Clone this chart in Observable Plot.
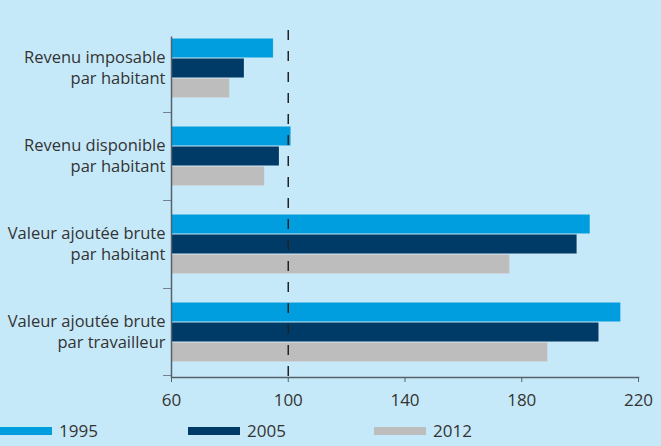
<!DOCTYPE html>
<html>
<head>
<meta charset="utf-8">
<script src="https://cdn.jsdelivr.net/npm/d3@7"></script>
<script src="https://cdn.jsdelivr.net/npm/@observablehq/plot@0.6"></script>
<style>
  html, body { margin: 0; padding: 0; background: #c6e9f9; }
  #wrap { width: 661px; height: 446px; position: relative; background: #c6e9f9; font-family: "Open Sans", sans-serif; overflow: hidden; }
  #legend { position: absolute; left: 0; top: 415px; width: 661px; height: 31px; }
  .item { position: absolute; top: 0; height: 31px; display: flex; align-items: center; font-size: 17px; color: #333; }
  .swatch { width: 52px; height: 8px; margin-right: 7px; }
</style>
</head>
<body>
<div id="wrap"><div id="chart"></div><div id="legend"></div></div>
<script>
const categories = [
  "Revenu imposable\npar habitant",
  "Revenu disponible\npar habitant",
  "Valeur ajoutée brute\npar habitant",
  "Valeur ajoutée brute\npar travailleur"
];
const years = ["1995", "2005", "2012"];
const values1995 = [95, 101, 203.5, 214];
const values2005 = [85, 97, 199, 206.5];
const values2012 = [80, 92, 176, 189];
const xTicks = [60, 100, 140, 180, 220];
const reference = 100;
const colors = ["#009ddf", "#003a66", "#bdbdbd"];

const series = [values1995, values2005, values2012];
const data = years.flatMap((year, j) => categories.map((c, i) => ({category: c, year, value: series[j][i]})));

const W = 661, H = 415, mt = 22, mb = 38;
const band = (H - mt - mb) / categories.length;
const barH = 20;
const pad = (band - barH * years.length) / 2;
const axisColor = "#55626b";

const barMarks = years.map((year, j) => Plot.barX(data.filter(d => d.year === year), {
  y: "category", x1: 60, x2: "value", fill: colors[j],
  insetTop: pad + j * barH, insetBottom: band - pad - (j + 1) * barH,
  stroke: "#ffffff", strokeOpacity: 0.18, strokeWidth: 1
}));

const chart = Plot.plot({
  width: W, height: H,
  marginLeft: 171, marginRight: 23, marginTop: mt, marginBottom: mb,
  style: {background: "transparent", fontFamily: "Open Sans, sans-serif"},
  x: {domain: [60, 220], ticks: xTicks, label: null},
  y: {domain: categories, padding: 0, axis: null},
  marks: [
    ...barMarks,
    // y axis line
    Plot.ruleX([60], {stroke: axisColor, strokeWidth: 1.5, insetTop: pad}),
    // separator ticks at band edges
    Plot.barX(categories.slice(1), {y: d => d, x1: 60, x2: 60, insetLeft: -8, insetBottom: band - 1.5, fill: axisColor}),
    Plot.barX(categories.slice(-1), {y: d => d, x1: 60, x2: 60, insetLeft: -8, insetTop: band - 1.5, fill: axisColor}),
    // reference dashed line
    Plot.ruleX([reference], {stroke: "#222", strokeWidth: 1.5, strokeDasharray: "10,11", insetTop: 8, insetBottom: -6}),
    // x axis
    Plot.axisX({ticks: xTicks, tickSize: 5, tickPadding: 11, fontSize: 17, stroke: axisColor, fill: "#333", label: null}),
    Plot.frame({anchor: "bottom", stroke: axisColor, strokeWidth: 1.5}),
    // category labels
    Plot.text(categories, {y: d => d, text: d => d, frameAnchor: "left", dx: -6, dy: -2, textAnchor: "end", fontSize: 16.5, lineHeight: 1.27, fill: "#333"})
  ]
});
document.getElementById("chart").appendChild(chart);

const legendX = [0, 188, 374];
const legend = document.getElementById("legend");
years.forEach((y, j) => {
  const item = document.createElement("div");
  item.className = "item";
  item.style.left = legendX[j] + "px";
  item.innerHTML = `<span class="swatch" style="background:${colors[j]}"></span><span>${y}</span>`;
  legend.appendChild(item);
});
</script>
</body>
</html>
